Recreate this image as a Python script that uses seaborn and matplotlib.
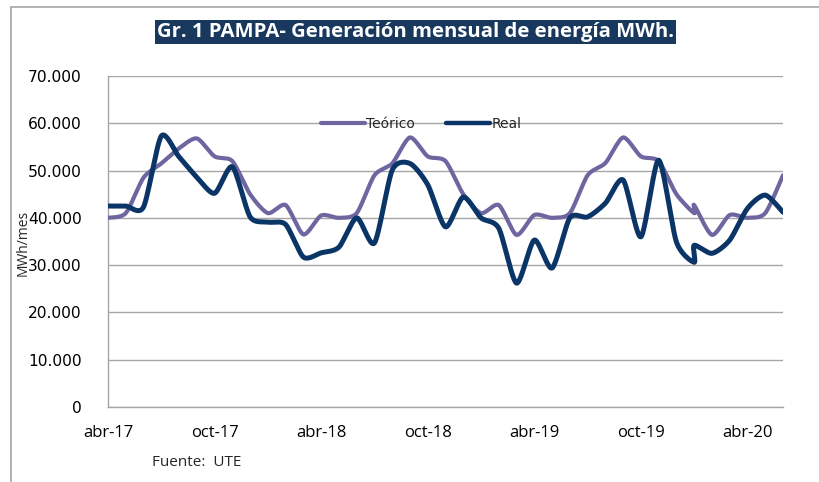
import numpy as np
import pandas as pd
import matplotlib
matplotlib.use("Agg")
import matplotlib.pyplot as plt
import seaborn as sns
from matplotlib.lines import Line2D
from matplotlib.ticker import FuncFormatter

# ---- data ----
fechas = (["2017-%02d" % m for m in range(4, 13)] +
          ["2018-%02d" % m for m in range(1, 13)] +
          ["2019-%02d" % m for m in range(1, 13)] +
          ["2020-01", "2020-01"] +
          ["2020-%02d" % m for m in range(2, 7)])
teorico = [40000, 41000, 48500, 51500, 54700, 56800, 53000, 52000, 45000,
           41000, 42700, 36500, 40500, 40000, 41000, 49000, 51500, 57000,
           53000, 52000, 45000, 41000, 42700, 36400, 40600, 40000, 41000,
           49000, 51600, 57000, 53000, 52000, 45000, 41000, 42700, 36400,
           40600, 40000, 41000, 49000]
real = [42500, 42500, 42300, 57300, 52900, 48600, 45200, 50800, 40200,
        39100, 38600, 31700, 32600, 33800, 40000, 34700, 50100, 51500,
        47000, 38100, 44400, 40000, 37800, 26200, 35300, 29400, 40000,
        40200, 43100, 48000, 36000, 52200, 34900, 30600, 34200, 32500,
        35300, 42000, 44800, 41200]
tick_labels = ["abr-17", "oct-17", "abr-18", "oct-18", "abr-19", "oct-19", "abr-20"]
series_names = ["Teórico", "Real"]

# month index from dates
fd = pd.to_datetime(fechas)
mes = np.array((fd.year - 2017) * 12 + fd.month - 4, dtype=float)


def smooth(x, y, n=24):
    """parametric Catmull-Rom (Excel-style smoothed line)"""
    P = np.column_stack([x, y]).astype(float)
    P = np.vstack([P[0], P, P[-1]])
    out = []
    t = np.linspace(0, 1, n, endpoint=False)
    for i in range(1, len(P) - 2):
        p0, p1, p2, p3 = P[i - 1], P[i], P[i + 1], P[i + 2]
        m1 = (p2 - p0) / 2.0 * 0.75
        m2 = (p3 - p1) / 2.0 * 0.75
        h00 = 2 * t**3 - 3 * t**2 + 1
        h10 = t**3 - 2 * t**2 + t
        h01 = -2 * t**3 + 3 * t**2
        h11 = t**3 - t**2
        seg = (np.outer(h00, p1) + np.outer(h10, m1) +
               np.outer(h01, p2) + np.outer(h11, m2))
        out.append(seg)
    out.append(P[-2][None, :])
    S = np.vstack(out)
    return S[:, 0], S[:, 1]


frames = []
for name, vals in zip(series_names, [teorico, real]):
    sx, sy = smooth(mes, vals)
    frames.append(pd.DataFrame({"x": sx, "y": sy, "serie": name,
                                "orden": np.arange(len(sx))}))
df = pd.concat(frames, ignore_index=True)

sns.set_theme(style="white")
plt.rcParams["font.family"] = ["DejaVu Sans"]

fig = plt.figure(figsize=(8.2, 4.82), dpi=100)
ax = fig.add_axes([108 / 820, 1 - 407 / 482, 675 / 820, 331 / 482])

colors = {"Teórico": "#6E66A0", "Real": "#0A3566"}
sns.lineplot(data=df, x="x", y="y", hue="serie", palette=colors,
             sort=False, estimator=None, units="serie", ax=ax, legend=False)
for line in ax.lines:
    if line.get_color().lower() == colors["Real"].lower():
        line.set_linewidth(3.6)
        line.set_zorder(4)
    else:
        line.set_linewidth(3.0)
        line.set_zorder(3)
    line.set_solid_capstyle("round")
    line.set_solid_joinstyle("round")

ax.set_xlim(0, 38)
ax.set_ylim(0, 70000)
ax.set_yticks(np.arange(0, 70001, 10000))
ax.yaxis.set_major_formatter(FuncFormatter(lambda v, p: f"{int(v):,}".replace(",", ".")))
ax.set_xticks(np.arange(0, 37, 6))
ax.set_xticklabels(tick_labels)
ax.grid(axis="y", color="#A6A6A6", linewidth=1.0)
ax.grid(axis="x", visible=False)
ax.set_axisbelow(True)
for s in ["top", "right"]:
    ax.spines[s].set_visible(False)
for s in ["left", "bottom"]:
    ax.spines[s].set_color("#A6A6A6")
    ax.spines[s].set_linewidth(1.0)
ax.tick_params(axis="both", length=0, colors="black")
ax.tick_params(axis="y", pad=19, labelsize=11.2)
ax.tick_params(axis="x", pad=13)
for lab in ax.get_xticklabels():
    lab.set_fontfamily("Open Sans")
    lab.set_fontsize(12)
ax.set_xlabel("")
ax.set_ylabel("")
fig.text(23 / 820, 1 - 243 / 482, "MWh/mes", rotation=90, ha="center",
         va="center", fontsize=10, family="Open Sans")

handles = [Line2D([0], [0], color=colors[n], lw=3.2 if n == "Real" else 3.0)
           for n in series_names]
ax.legend(handles, series_names, loc="center", bbox_to_anchor=(0.464, 0.855),
          ncol=2, frameon=False, handlelength=3.2, handletextpad=0.1,
          columnspacing=2.2, fontsize=10)

fig.text(415.5 / 820, 1 - 32 / 482, "Gr. 1 PAMPA- Generación mensual de energía MWh.",
         ha="center", va="center", color="white", fontsize=14.6, fontweight="bold",
         family="Open Sans",
         bbox=dict(boxstyle="square,pad=0.12", facecolor="#19385D", edgecolor="none"))
fig.text(152 / 820, 1 - 463 / 482, "Fuente:  UTE", ha="left", va="center",
         fontsize=11, family="Open Sans")

# outer frame (top and left)
fig.add_artist(Line2D([11 / 820, 1], [1 - 7 / 482, 1 - 7 / 482],
                      transform=fig.transFigure, color="#A6A6A6", lw=1.2))
fig.add_artist(Line2D([11 / 820, 11 / 820], [0, 1 - 7 / 482],
                      transform=fig.transFigure, color="#A6A6A6", lw=1.2))

fig.savefig("out.png", dpi=100, facecolor="white")
